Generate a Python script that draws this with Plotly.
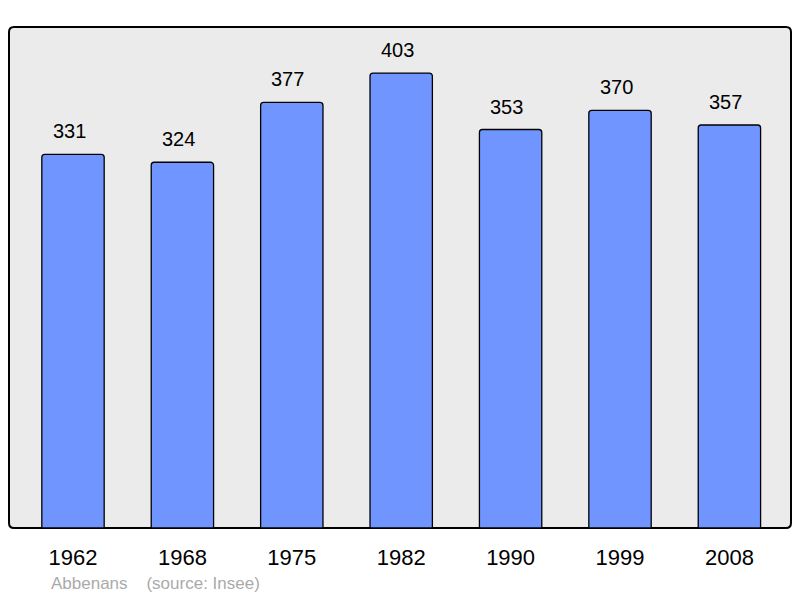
import plotly.graph_objects as go

years = ["1962", "1968", "1975", "1982", "1990", "1999", "2008"]
population = [331, 324, 377, 403, 353, 370, 357]
footer_text = "Abbenans    (source: Insee)"

# page body has an 8px margin; compensate so the plot lands where the reference has it
OFF = 8
W, H = 800 - OFF, 598 - OFF
ml, mr, mt, mb = 9 - OFF, 9, 27 - OFF, 70
pw, ph = W - ml - mr, H - mt - mb

fig = go.Figure()
fig.add_trace(go.Bar(
    x=list(range(len(years))), y=population, width=0.57,
    marker=dict(color="#7095ff", line=dict(color="#000000", width=1.3), cornerradius=3),
    hoverinfo="skip",
))
for i, v in enumerate(population):
    fig.add_annotation(x=i, y=v, text=str(v), showarrow=False, yshift=23, xshift=-4,
                       font=dict(size=20, color="#000000", family="Liberation Sans, Arial"))

# rounded plot frame
r = 5
rx, ry = r / pw, r / ph
path = (f"M {rx} 0 L {1-rx} 0 Q 1 0 1 {ry} L 1 {1-ry} Q 1 1 {1-rx} 1 "
        f"L {rx} 1 Q 0 1 0 {1-ry} L 0 {ry} Q 0 0 {rx} 0 Z")
fig.add_shape(type="path", path=path, xref="paper", yref="paper",
              fillcolor="#ebebeb", line=dict(color="#000000", width=2), layer="below")

fig.add_annotation(x=(49 - 9) / pw, y=-(583 - 528) / ph, xref="paper", yref="paper",
                   text=footer_text, showarrow=False, xanchor="left", yanchor="middle",
                   font=dict(size=17, color="#aaaaaa", family="Liberation Sans, Arial"))

fig.update_layout(
    width=W, height=H,
    margin=dict(l=ml, r=mr, t=mt, b=mb),
    paper_bgcolor="#ffffff", plot_bgcolor="rgba(0,0,0,0)",
    showlegend=False,
    xaxis=dict(tickmode="array", tickvals=list(range(len(years))), ticktext=years,
               range=[-0.585, 6.563], showgrid=False, zeroline=False, showline=False,
               ticks="outside", ticklen=10, tickcolor="rgba(0,0,0,0)",
               tickfont=dict(size=22, color="#000000", family="Liberation Sans, Arial"),
               fixedrange=True),
    yaxis=dict(range=[0, 443.8], visible=False, fixedrange=True),
)
fig.write_html("out.html")
